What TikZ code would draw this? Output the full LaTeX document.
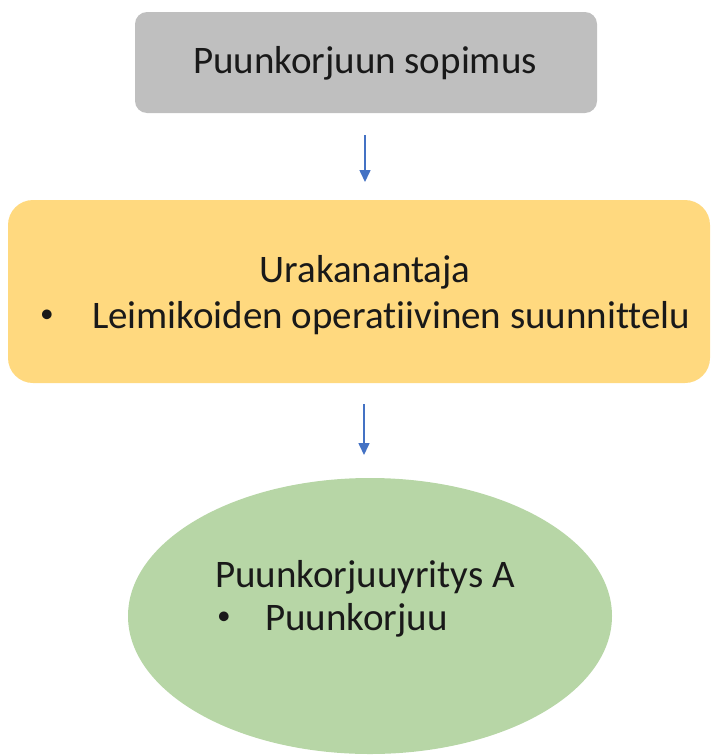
\documentclass[tikz,border=0pt]{standalone}
\usepackage{fontspec}
\setmainfont{Carlito}[Ligatures=NoCommon]
\usetikzlibrary{positioning,shapes.geometric,arrows.meta}
\definecolor{boxgray}{HTML}{BFBFBF}
\definecolor{boxgold}{HTML}{FFD97F}
\definecolor{boxgreen}{HTML}{B7D6A6}
\definecolor{flowblue}{HTML}{4472C4}
\newcommand{\bul}{\raisebox{6pt}{\scalebox{0.7}{\textbullet}}}

\begin{document}
\begin{tikzpicture}[x=1pt,y=-1pt,
    every node/.style={inner sep=0pt, outer sep=0pt},
    lbl/.style={font=\fontsize{39}{46}\selectfont, text=black!90},
    flow/.style={draw=flowblue, line width=1.6pt, -{Triangle[length=12pt,width=11pt]}}]
    \useasboundingbox (0,0) rectangle (711,755);

    \node[fill=boxgray, rounded corners=12pt, minimum width=462pt, minimum height=101pt] (sop) at (366,62.5) {};
    \node[fill=boxgold, rounded corners=25pt, minimum width=702pt, minimum height=183pt] (urak) at (359,291.5) {};
    \node[fill=boxgreen, ellipse, minimum width=484pt, minimum height=276pt] (yritys) at (370,616) {};

    \node[lbl, anchor=base] (soptext) at (365,73) {Puunkorjuun sopimus};
    \node[lbl, anchor=base] (urak1) at (365,282) {Urakanantaja};
    \node[lbl, anchor=base west] (urak2) at (40,328) {\makebox[52pt][l]{\bul}Leimikoiden operatiivinen suunnittelu};
    \node[lbl, anchor=base west] (yrit1) at (215,587) {Puunkorjuuyritys A};
    \node[lbl, anchor=base west] (yrit2) at (217,630) {\makebox[48pt][l]{\bul}Puunkorjuu};

    \draw[flow, shorten <=22pt, shorten >=18pt] ([xshift=-1pt]sop.south) -- ([xshift=-1pt]sop.south |- urak.north);
    \draw[flow, shorten <=21pt, shorten >=23pt] ([xshift=5pt]urak.south) -- ([xshift=5pt]urak.south |- yritys.north);
\end{tikzpicture}
\end{document}
